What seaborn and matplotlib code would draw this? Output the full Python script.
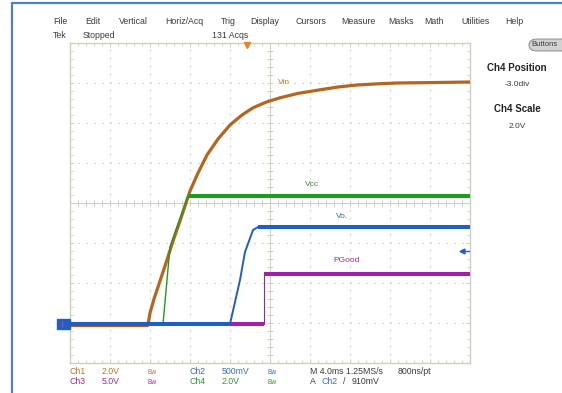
import numpy as np
import pandas as pd
import matplotlib
matplotlib.use("Agg")
import matplotlib.pyplot as plt
from matplotlib.lines import Line2D
from matplotlib.patches import Rectangle, FancyBboxPatch
import seaborn as sns

# ---------------------------------------------------------------------------
# DATA  (time in divisions, 4 ms/div ; level in divisions on the graticule)
# ---------------------------------------------------------------------------
vin_t = [0.0, 1.95, 2.0, 2.1, 2.25, 2.4, 2.575, 2.75, 2.9, 3.0, 3.2, 3.425, 3.7, 4.0,
         4.3, 4.575, 4.9, 5.25, 5.7, 6.25, 6.7, 7.175, 7.7, 8.175, 9.0, 10.0]
vin_v = [0.95, 0.95, 1.25, 1.6, 2.05, 2.5, 3.05, 3.55, 4.0, 4.3, 4.75, 5.2, 5.6, 5.95,
         6.2, 6.38, 6.52, 6.63, 6.74, 6.83, 6.9, 6.95, 6.98, 7.0, 7.01, 7.025]

vcc_t = [0.0, 2.325, 2.425, 2.5, 2.55, 2.825, 2.95, 10.0]
vcc_v = [0.97, 0.97, 2.075, 2.9, 3.05, 3.825, 4.175, 4.175]

pgood_t = [0.0, 4.85, 4.85, 10.0]
pgood_v = [0.975, 0.975, 2.225, 2.225]

vo_t = [0.0, 4.0, 4.25, 4.375, 4.575, 4.7, 10.0]
vo_v = [0.975, 0.975, 2.075, 2.775, 3.325, 3.4, 3.4]

trace_names = ["Vin", "Vcc", "PGood", "Vo."]
trigger_level = 2.8      # 910 mV on Ch2
trigger_pos = 4.425

menu_items = ["File", "Edit", "Vertical", "Horiz/Acq", "Trig", "Display", "Cursors",
              "Measure", "Masks", "Math", "Utilities", "Help"]

# ---------------------------------------------------------------------------
# STYLE
# ---------------------------------------------------------------------------
sns.set_style("white")
plt.rcParams["font.family"] = ["Liberation Sans", "DejaVu Sans"]

C_ORANGE = "#b5651d"
C_GREEN = "#1f9a1f"
C_BLUE = "#1f5fc4"
C_PURPLE = "#a41fa8"
C_GRID = "#cfcfbd"
C_TEXT = "#3a3a3a"

W, H = 562, 393
fig = plt.figure(figsize=(W / 100, H / 100), dpi=100)
ax = fig.add_axes([70 / W, 30 / H, 400 / W, 320 / H])


def fx(px):
    return px / W


def fy(py):
    return 1 - py / H


# ---------------------------------------------------------------------------
# GRATICULE
# ---------------------------------------------------------------------------
ax.set_xlim(0, 10)
ax.set_ylim(0, 8)
ax.set_xticks(np.arange(0, 11, 1))
ax.set_yticks(np.arange(0, 9, 1))
ax.set_xticks(np.arange(0, 10.01, 0.2), minor=True)
ax.set_yticks(np.arange(0, 8.01, 0.2), minor=True)
ax.set_xticklabels([])
ax.set_yticklabels([])
ax.tick_params(which="both", direction="in", color=C_GRID, top=True, right=True,
               bottom=True, left=True)
ax.tick_params(which="major", length=3, width=0.7)
ax.tick_params(which="minor", length=2.5, width=0.6)
ax.grid(True, which="major", color="#c4c4c4", linewidth=0.8, linestyle=(0, (1.2, 6.0)))
for s in ax.spines.values():
    s.set_color(C_GRID)
    s.set_linewidth(1.0)

ax.axvline(5, color=C_GRID, lw=0.7, zorder=1)
ax.axhline(4, color=C_GRID, lw=0.7, zorder=1)
ax.plot(np.arange(0, 10.01, 0.2), np.full(51, 4.0), ls="none", marker="|", ms=4,
        mew=0.7, color=C_GRID, zorder=1)
ax.plot(np.full(41, 5.0), np.arange(0, 8.01, 0.2), ls="none", marker="_", ms=4,
        mew=0.7, color=C_GRID, zorder=1)

# ---------------------------------------------------------------------------
# TRACES
# ---------------------------------------------------------------------------
traces = [
    (vin_t, vin_v, C_ORANGE, 2.3),
    (vcc_t, vcc_v, C_GREEN, 1.0),
    (pgood_t, pgood_v, C_PURPLE, 0.8),
    (vo_t, vo_v, C_BLUE, 1.4),
]
for z, (name, (t, v, col, lw)) in enumerate(zip(trace_names, traces)):
    df = pd.DataFrame({"t": t, "v": v})
    sns.lineplot(data=df, x="t", y="v", estimator=None, sort=False, color=col,
                 lw=lw, ax=ax, zorder=3 + z)
    # flat (settled) parts are drawn thicker, like the noisy scope trace
    for i in range(len(t) - 1):
        if v[i] == v[i + 1]:
            seg = df.iloc[i:i + 2]
            sns.lineplot(data=seg, x="t", y="v", estimator=None, sort=False,
                         color=col, lw=2.9 if name != "Vin" else 2.3, ax=ax,
                         zorder=3 + z, solid_capstyle="butt")
ax.set_xlabel("")
ax.set_ylabel("")

# trace labels
ax.text(5.2, 7.0, "Vin", color="#b87a30", fontsize=6, ha="left", va="center")
ax.text(6.05, 4.45, "Vcc", color="#2f962f", fontsize=6, ha="center", va="center")
ax.text(6.8, 3.65, "Vo.", color="#3a68c0", fontsize=6, ha="center", va="center")
ax.text(6.92, 2.55, "PGood", color="#a02aa0", fontsize=6, ha="center", va="center")

# ground marker, trigger level and trigger position
ax.add_patch(Rectangle((-0.33, 0.86), 0.33, 0.23, color=C_BLUE, clip_on=False, zorder=8))
ax.plot([-0.2], [0.975], marker="|", ms=4, color="#d04070", clip_on=False, zorder=9)
ax.plot([9.78, 10.0], [trigger_level, trigger_level], color=C_BLUE, lw=1.0, zorder=8)
ax.plot([9.8], [trigger_level], marker="<", ms=3.5, color=C_BLUE, zorder=8)
ax.plot([trigger_pos], [7.95], marker="v", ms=5, color="#f08020", clip_on=False, zorder=9)

# ---------------------------------------------------------------------------
# SCREEN FURNITURE
# ---------------------------------------------------------------------------
fig.add_artist(Line2D([fx(12), fx(12)], [0, fy(3)], color="#4f7fc8", lw=1.6))
fig.add_artist(Line2D([fx(12), 1], [fy(3), fy(3)], color="#4f7fc8", lw=1.6))

menu_x = [60, 93, 133, 184, 228, 265, 311, 358, 401, 434, 475, 514]
for lab, x in zip(menu_items, menu_x):
    fig.text(fx(x), fy(22), lab, fontsize=6.3, color=C_TEXT, ha="center", va="center")
fig.text(fx(53), fy(36), "Tek", fontsize=6.3, color=C_TEXT, va="center")
fig.text(fx(83), fy(36), "Stopped", fontsize=6.3, color=C_TEXT, va="center")
fig.text(fx(212), fy(36), "131 Acqs", fontsize=6.3, color=C_TEXT, va="center")

fig.add_artist(FancyBboxPatch((fx(529), fy(51)), fx(40), 12 / H,
                              boxstyle="round,pad=0,rounding_size=0.015",
                              fc="#d2d2d2", ec="#8a8a8a", lw=0.7))
fig.text(fx(545), fy(45), "Buttons", fontsize=5.5, color=C_TEXT, ha="center", va="center")

fig.text(fx(517), fy(68), "Ch4 Position", fontsize=7, fontweight="bold", color="#222222",
         ha="center", va="center")
fig.text(fx(517), fy(84), "-3.0div", fontsize=6, color=C_TEXT, ha="center", va="center")
fig.text(fx(517), fy(109), "Ch4 Scale", fontsize=7, fontweight="bold", color="#222222",
         ha="center", va="center")
fig.text(fx(517), fy(127), "2.0V", fontsize=6, color=C_TEXT, ha="center", va="center")

# channel readouts
row1 = [(70, "Ch1", "#b8762a"), (102, "2.0V", "#b8762a"), (148, "Bw", "#b8762a"),
        (190, "Ch2", "#3a6ac0"), (222, "500mV", "#3a6ac0"), (268, "Bw", "#3a6ac0"),
        (310, "M 4.0ms 1.25MS/s", C_TEXT), (398, "800ns/pt", C_TEXT)]
row2 = [(70, "Ch3", "#a02aa8"), (102, "5.0V", "#a02aa8"), (148, "Bw", "#a02aa8"),
        (190, "Ch4", "#2f962f"), (222, "2.0V", "#2f962f"), (268, "Bw", "#2f962f"),
        (310, "A", C_TEXT), (321, "Ch2", "#3a6ac0"), (343, "/", C_TEXT),
        (352, "910mV", C_TEXT)]
for row, y in ((row1, 372), (row2, 382)):
    for x, lab, col in row:
        fs = 4.8 if lab == "Bw" else 6.3
        fig.text(fx(x), fy(y), lab, fontsize=fs, color=col, va="center")

fig.savefig("out.png", dpi=100)
plt.close(fig)
